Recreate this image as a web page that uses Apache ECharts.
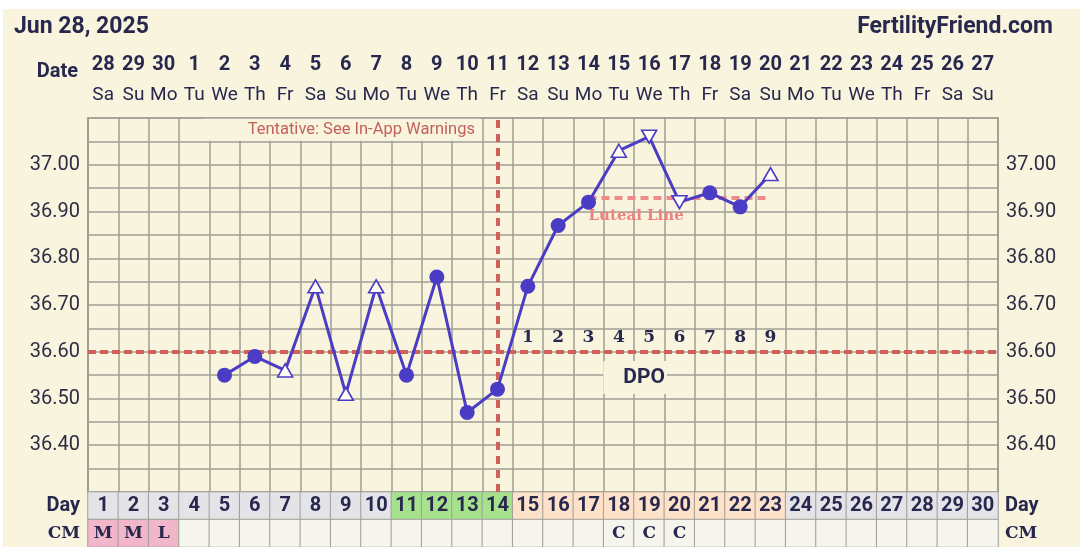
<!DOCTYPE html>
<html>
<head>
<meta charset="utf-8">
<script src="https://cdn.jsdelivr.net/npm/echarts@6/dist/echarts.min.js"></script>
<style>
html,body{margin:0;padding:0;background:#fff;}
#c{width:1080px;height:547px;
  background:linear-gradient(#fff,#fff) 0 0/100% 9px no-repeat,
             linear-gradient(#fff,#fff) 0 0/3px 100% no-repeat,#f8f4de;}
</style>
</head>
<body>
<div id="c"></div>
<script>
// ---------- data ----------
const cycleDays = ['1','2','3','4','5','6','7','8','9','10','11','12','13','14','15','16','17','18','19','20','21','22','23','24','25','26','27','28','29','30'];
const dates = ['28','29','30','1','2','3','4','5','6','7','8','9','10','11','12','13','14','15','16','17','18','19','20','21','22','23','24','25','26','27'];
const weekdays = ['Sa','Su','Mo','Tu','We','Th','Fr','Sa','Su','Mo','Tu','We','Th','Fr','Sa','Su','Mo','Tu','We','Th','Fr','Sa','Su','Mo','Tu','We','Th','Fr','Sa','Su'];
const temps = [null,null,null,null,36.55,36.59,36.56,36.74,36.51,36.74,36.55,36.76,36.47,36.52,36.74,36.87,36.92,37.03,37.06,36.92,36.94,36.91,36.98,null,null,null,null,null,null,null];
const markers = ['','','','','circle','circle','up','up','up','up','circle','circle','circle','circle','circle','circle','circle','up','down','down','circle','circle','up','','','','','','',''];
const cm = ['M','M','L','','','','','','','','','','','','','','','C','C','C','','','','','','','','','',''];
const dpoDays = ['15','16','17','18','19','20','21','22','23'];
const dpoNumbers = ['1','2','3','4','5','6','7','8','9'];
const periodDays = [1,2,3];
const fertileDays = [11,12,13,14];
const lutealDays = [15,16,17,18,19,20,21,22,23];
const coverline = 36.60;
const ovulationDay = '14';
const lutealLevel = 36.93;
const lutealStart = '17';
const lutealEnd = '23';
const tempTicks = ['36.40','36.50','36.60','36.70','36.80','36.90','37.00'];

// ---------- styles ----------
const CREAM = '#f8f4de';
const NAVY = '#28284f';
const GRID = '#a09f95';
const PURPLE = '#4a3cc4';
const RED = '#d35f5a';
const PINK = '#f08a8a';

const fmtTemp = v => {
  const s = (Math.round(v * 100) / 100).toFixed(2);
  return tempTicks.indexOf(s) >= 0 ? s : '';
};

const tempData = temps.map((t, i) => {
  if (t === null) return '-';
  const m = markers[i];
  if (m === 'circle') {
    return {value: t, symbol: 'circle', symbolSize: 15, itemStyle: {color: PURPLE}};
  }
  return {value: t, symbol: 'triangle', symbolSize: [15, 13], symbolRotate: m === 'down' ? 180 : 0,
          itemStyle: {color: '#fffef6', borderColor: PURPLE, borderWidth: 1.6}};
});

const dayFill = d => fertileDays.indexOf(d) >= 0 ? '#a6e28e' : (lutealDays.indexOf(d) >= 0 ? '#fde1c8' : '#e3e3e8');
const cmFill = d => periodDays.indexOf(d) >= 0 ? '#f2b6cb' : '#f5f5ee';

const chart = echarts.init(document.getElementById('c'), null, {renderer: 'canvas'});
const option = {
  animation: false,
  title: [
    {text: 'Jun 28, 2025', left: 14, top: 16, padding: 0,
     textStyle: {fontFamily: 'Roboto', fontWeight: 'bold', fontSize: 23, color: NAVY}},
    {text: 'FertilityFriend.com', right: 27, top: 16, padding: 0,
     textStyle: {fontFamily: 'Roboto', fontWeight: 'bold', fontSize: 23, color: NAVY}},
    {text: 'Date', right: 1002, top: 62, padding: 0,
     textStyle: {fontFamily: 'Roboto', fontWeight: 'bold', fontSize: 20, color: NAVY}}
  ],
  grid: [
    {left: 88, top: 118, width: 910, height: 374},
    {left: 88, top: 492, width: 910, height: 59}
  ],
  xAxis: [
    {type: 'category', gridIndex: 0, data: cycleDays, position: 'top', boundaryGap: true,
     axisLine: {show: true, lineStyle: {color: GRID, width: 1.5}}, axisTick: {show: false},
     axisLabel: {interval: 0, margin: 8,
       formatter: (v, i) => '{d|' + dates[i] + '}\n{w|' + weekdays[i] + '}',
       rich: {
         d: {fontFamily: 'Roboto', fontWeight: 'bold', fontSize: 20, color: NAVY, lineHeight: 30},
         w: {fontFamily: 'Roboto', fontSize: 19, color: NAVY, lineHeight: 30}
       }},
     splitLine: {show: true, interval: 0, lineStyle: {color: GRID, width: 1.5}}},
    {type: 'category', gridIndex: 1, data: cycleDays, show: false}
  ],
  yAxis: [
    {type: 'value', gridIndex: 0, min: 36.3, max: 37.1, interval: 0.05, position: 'left',
     axisLine: {show: true, lineStyle: {color: GRID, width: 2}}, axisTick: {show: false},
     axisLabel: {margin: 8, formatter: fmtTemp, fontFamily: 'Roboto', fontSize: 20, color: '#2f2d45'},
     splitLine: {show: true, lineStyle: {color: GRID, width: 1.5}}},
    {type: 'value', gridIndex: 0, min: 36.3, max: 37.1, interval: 0.05, position: 'right',
     axisLine: {show: true, lineStyle: {color: GRID, width: 2}}, axisTick: {show: false},
     axisLabel: {margin: 8, formatter: fmtTemp, fontFamily: 'Roboto', fontSize: 20, color: '#2f2d45'},
     splitLine: {show: false}},
    {type: 'category', gridIndex: 1, data: ['Day', 'CM'], inverse: true, position: 'left',
     axisLine: {show: false}, axisTick: {show: false},
     axisLabel: {margin: 8, fontFamily: 'Roboto', fontWeight: 'bold', fontSize: 20, color: NAVY,
       formatter: v => v === 'CM' ? '{s|CM}' : v,
       rich: {s: {fontFamily: 'DejaVu Serif', fontWeight: 'bold', fontSize: 17, color: NAVY}}}},
    {type: 'category', gridIndex: 1, data: ['Day', 'CM'], inverse: true, position: 'right',
     axisLine: {show: false}, axisTick: {show: false},
     axisLabel: {margin: 7, fontFamily: 'Roboto', fontWeight: 'bold', fontSize: 20, color: NAVY,
       formatter: v => v === 'CM' ? '{s|CM}' : v,
       rich: {s: {fontFamily: 'DejaVu Serif', fontWeight: 'bold', fontSize: 17, color: NAVY}}}}
  ],
  series: [
    // reference lines (under the temperature line)
    {type: 'line', xAxisIndex: 0, yAxisIndex: 0, data: [], z: 1, silent: true,
     markLine: {symbol: ['none', 'none'], silent: true, label: {show: false},
       emphasis: {disabled: true},
       data: [
         {yAxis: coverline, lineStyle: {color: RED, width: 4, type: [8, 4]}},
         {xAxis: ovulationDay, lineStyle: {color: RED, width: 4, type: [8, 6]}},
         [{coord: [lutealStart, lutealLevel], lineStyle: {color: PINK, width: 4, type: [8, 5]},
           label: {show: true, formatter: 'Luteal Line', position: 'insideStartBottom', distance: 10,
             offset: [-10, 1],
             fontFamily: 'DejaVu Serif', fontWeight: 'bold', fontSize: 15, color: '#ee8080'}},
          {coord: [lutealEnd, lutealLevel]}]
       ]}},
    // temperatures
    {type: 'line', xAxisIndex: 0, yAxisIndex: 0, data: tempData, z: 5,
     showSymbol: true, showAllSymbol: true, connectNulls: false,
     lineStyle: {color: PURPLE, width: 3}, itemStyle: {color: PURPLE},
     emphasis: {disabled: true}, silent: true},
    // DPO numbers
    {type: 'scatter', xAxisIndex: 0, yAxisIndex: 0, z: 4, silent: true,
     data: dpoDays.map(d => [d, 36.631]), symbolSize: 1, itemStyle: {color: 'rgba(0,0,0,0)', opacity: 1},
     label: {show: true, position: 'inside', formatter: p => dpoNumbers[p.dataIndex],
       fontFamily: 'DejaVu Serif', fontWeight: 'bold', fontSize: 17, color: NAVY}},
    // annotation boxes
    {type: 'scatter', xAxisIndex: 0, yAxisIndex: 0, z: 4, silent: true,
     data: [
       {value: [ovulationDay, 37.075],
        label: {show: true, position: 'left', distance: 17, formatter: 'Tentative: See In-App Warnings',
          fontFamily: 'Roboto', fontSize: 16.5, lineHeight: 16, color: '#c4605c',
          backgroundColor: CREAM, padding: [3, 5, 3, 45]}},
       {value: ['19', 36.545],
        label: {show: true, position: 'inside', offset: [-14, 0], formatter: 'DPO',
          fontFamily: 'Roboto', fontWeight: 'bold', fontSize: 21, lineHeight: 21, color: NAVY,
          backgroundColor: CREAM, padding: [6, 2, 6, 20]}}
     ],
     symbolSize: 1, itemStyle: {color: 'rgba(0,0,0,0)', opacity: 1}},
    // Day row
    {type: 'heatmap', xAxisIndex: 1, yAxisIndex: 2, silent: true, emphasis: {disabled: true},
     data: cycleDays.map((d, i) => ({value: [i, 0, Number(d)], itemStyle: {color: dayFill(Number(d))}})),
     itemStyle: {borderColor: GRID, borderWidth: 1},
     label: {show: true, formatter: p => String(p.value[2]),
       fontFamily: 'Roboto', fontWeight: 'bold', fontSize: 20, color: NAVY}},
    // CM row
    {type: 'heatmap', xAxisIndex: 1, yAxisIndex: 2, silent: true, emphasis: {disabled: true},
     data: cycleDays.map((d, i) => ({value: [i, 1, 1], itemStyle: {color: cmFill(Number(d))}})),
     itemStyle: {borderColor: GRID, borderWidth: 1},
     label: {show: true, formatter: p => cm[p.dataIndex],
       fontFamily: 'DejaVu Serif', fontWeight: 'bold', fontSize: 17, color: NAVY}}
  ]
};
chart.setOption(option);
</script>
</body>
</html>
